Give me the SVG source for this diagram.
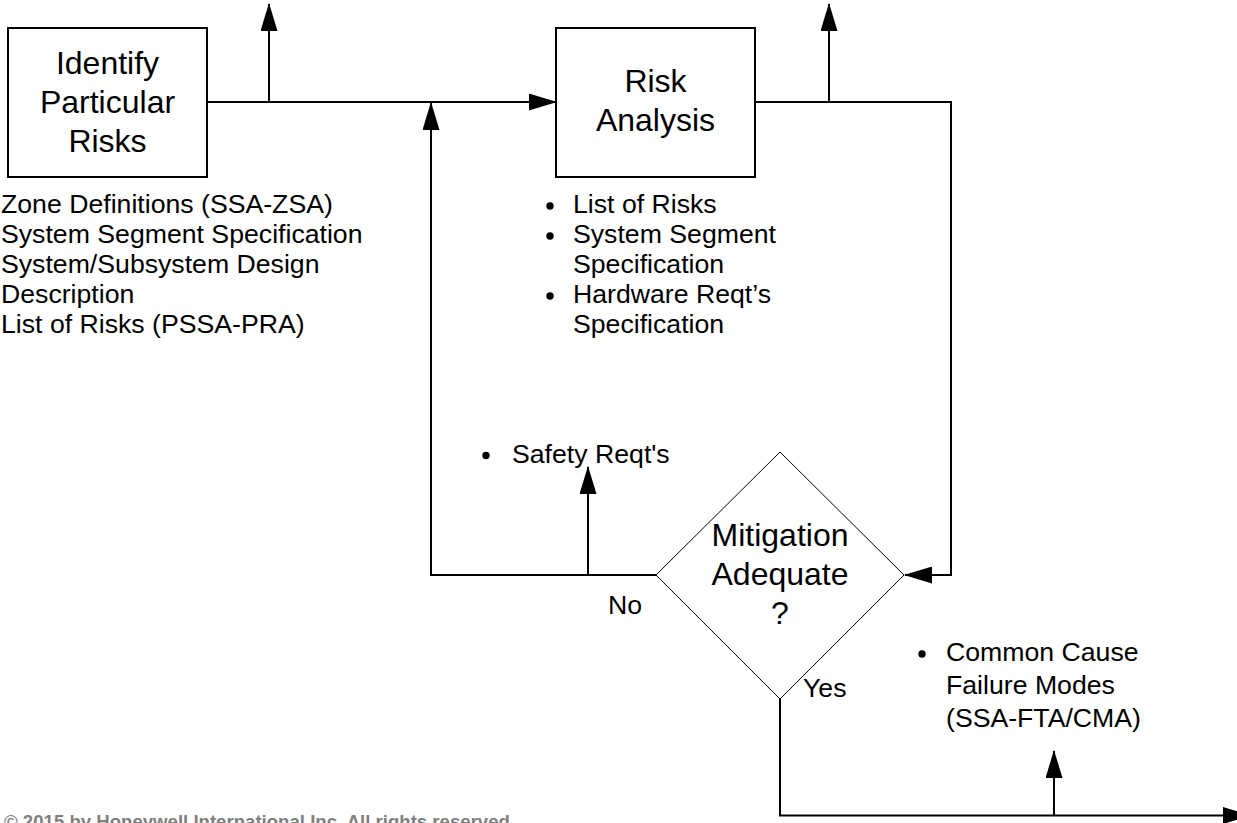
<svg xmlns="http://www.w3.org/2000/svg" width="1237" height="823" viewBox="0 0 1237 823">
<style>
.box{fill:#fff;stroke:#000;stroke-width:2}
.dia{fill:#fff;stroke:#000;stroke-width:1}
.ln{fill:none;stroke:#000;stroke-width:2}
.t{font-family:"Liberation Sans",Arial,sans-serif;font-size:26.67px;fill:#000}
.bt{font-family:"Liberation Sans",Arial,sans-serif;font-size:32px;fill:#000;text-anchor:middle}
.cp{font-family:"Liberation Sans",Arial,sans-serif;font-size:18.6px;font-weight:bold;fill:#7f7f7f}
</style>
<defs>
<marker id="ah" viewBox="0 0 28 17" refX="27" refY="8.5" markerWidth="28" markerHeight="17" orient="auto" markerUnits="userSpaceOnUse">
<path d="M0,0 L28,8.5 L0,17 z" fill="#000"/>
</marker>
</defs>
<rect width="1237" height="823" fill="#fff"/>
<g id="connectors">
<path class="ln" d="M207,102 H556" marker-end="url(#ah)"/>
<path class="ln" d="M269,102 V4" marker-end="url(#ah)"/>
<path class="ln" d="M755,102 H951 V575 H905" marker-end="url(#ah)"/>
<path class="ln" d="M829,102 V4" marker-end="url(#ah)"/>
<path class="ln" d="M656,575 H431 V103" marker-end="url(#ah)"/>
<path class="ln" d="M588,575 V467" marker-end="url(#ah)"/>
<path class="ln" d="M780,699 V815.5 H1250" marker-end="url(#ah)"/>
<path class="ln" d="M1054,815.5 V751" marker-end="url(#ah)"/>
</g>
<g id="identify">
<rect class="box" x="8" y="28" width="199" height="149"/>
<text class="bt" x="107.5" y="74">Identify</text>
<text class="bt" x="107.5" y="113">Particular</text>
<text class="bt" x="107.5" y="152">Risks</text>
</g>
<g id="inputs">
<text class="t" x="1" y="213">Zone Definitions (SSA-ZSA)</text>
<text class="t" x="1" y="243">System Segment Specification</text>
<text class="t" x="1" y="273">System/Subsystem Design</text>
<text class="t" x="1" y="303">Description</text>
<text class="t" x="1" y="333">List of Risks (PSSA-PRA)</text>
</g>
<g id="risk-analysis">
<rect class="box" x="556" y="28" width="199" height="149"/>
<text class="bt" x="655.5" y="92">Risk</text>
<text class="bt" x="655.5" y="131">Analysis</text>
</g>
<g id="ra-outputs">
<circle cx="550" cy="206" r="3.7"/>
<circle cx="550" cy="236" r="3.7"/>
<circle cx="550" cy="296" r="3.7"/>
<text class="t" x="573" y="213">List of Risks</text>
<text class="t" x="573" y="243">System Segment</text>
<text class="t" x="573" y="273">Specification</text>
<text class="t" x="573" y="303">Hardware Reqt’s</text>
<text class="t" x="573" y="333">Specification</text>
</g>
<g id="mitigation">
<polygon class="dia" points="780,452 904,575 780,699 656,575"/>
<text class="bt" x="780" y="546">Mitigation</text>
<text class="bt" x="780" y="585">Adequate</text>
<text class="bt" x="780" y="624">?</text>
</g>
<g id="safety">
<circle cx="486" cy="455.5" r="3.7"/>
<text class="t" x="512" y="463">Safety Reqt's</text>
</g>
<g id="labels">
<text class="t" x="608" y="614">No</text>
<text class="t" x="803" y="697">Yes</text>
</g>
<g id="ccf">
<circle cx="922" cy="654" r="3.7"/>
<text class="t" x="946" y="661">Common Cause</text>
<text class="t" x="946" y="694">Failure Modes</text>
<text class="t" x="946" y="727">(SSA-FTA/CMA)</text>
</g>
<g id="copyright">
<text class="cp" x="4" y="828">© 2015 by Honeywell International Inc. All rights reserved.</text>
</g>
</svg>
